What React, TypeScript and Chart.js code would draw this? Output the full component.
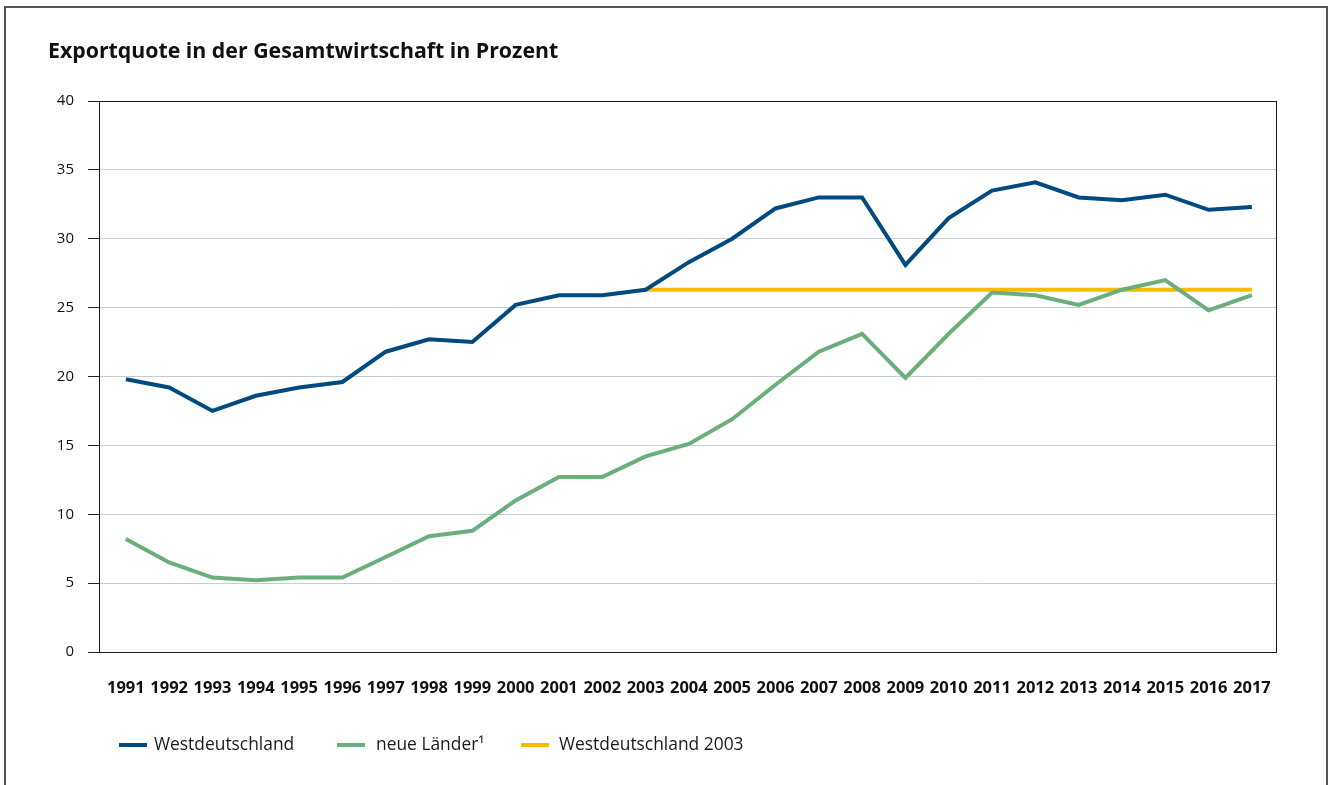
import React, { useEffect, useRef } from "react";
import { Chart, registerables } from "chart.js";

Chart.register(...registerables);

const TITLE = "Exportquote in der Gesamtwirtschaft in Prozent";
const years = [1991, 1992, 1993, 1994, 1995, 1996, 1997, 1998, 1999, 2000, 2001, 2002, 2003, 2004, 2005, 2006, 2007, 2008, 2009, 2010, 2011, 2012, 2013, 2014, 2015, 2016, 2017];
const westdeutschland = [19.8, 19.2, 17.5, 18.6, 19.2, 19.6, 21.8, 22.7, 22.5, 25.2, 25.9, 25.9, 26.3, 28.3, 30.0, 32.2, 33.0, 33.0, 28.1, 31.5, 33.5, 34.1, 33.0, 32.8, 33.2, 32.1, 32.3];
const neueLaender = [8.2, 6.5, 5.4, 5.2, 5.4, 5.4, 6.9, 8.4, 8.8, 11.0, 12.7, 12.7, 14.2, 15.1, 16.9, 19.4, 21.8, 23.1, 19.9, 23.1, 26.1, 25.9, 25.2, 26.3, 27.0, 24.8, 25.9];
const west2003Years = [2003, 2017];
const west2003Value = 26.3;
const yTicks = [0, 5, 10, 15, 20, 25, 30, 35, 40];
const seriesLabels = ["Westdeutschland", "neue Länder\u00B9", "Westdeutschland 2003"];
const colors = ["#004a7f", "#69ae7b", "#f7bb00"];

const FONT = "'Open Sans', 'Noto Sans', sans-serif";
const legendSwatchX = [119, 337, 521];
const legendTextX = [154, 376, 559];

const framePlugin = {
  id: "frame",
  beforeDraw(chart: any) {
    const { ctx } = chart;
    ctx.save();
    ctx.fillStyle = "#ffffff";
    ctx.fillRect(0, 0, chart.width, chart.height);
    ctx.strokeStyle = "#555555";
    ctx.lineWidth = 2;
    ctx.strokeRect(5, 7, 1322, 820);
    ctx.fillStyle = "#111111";
    ctx.font = `bold 21.3px ${FONT}`;
    ctx.textBaseline = "middle";
    ctx.textAlign = "left";
    ctx.fillText(TITLE, 48, 52);
    ctx.restore();
  },
  beforeDatasetsDraw(chart: any) {
    const { ctx, chartArea } = chart;
    ctx.save();
    ctx.strokeStyle = "#1a1a1a";
    ctx.lineWidth = 1;
    ctx.strokeRect(
      Math.round(chartArea.left) + 0.5,
      Math.round(chartArea.top) + 0.5,
      Math.round(chartArea.right - chartArea.left) - 1,
      Math.round(chartArea.bottom - chartArea.top)
    );
    ctx.restore();
  },
  afterDraw(chart: any) {
    const { ctx } = chart;
    ctx.save();
    ctx.font = `17.4px ${FONT}`;
    ctx.textBaseline = "middle";
    ctx.textAlign = "left";
    const y = 745;
    seriesLabels.forEach((label, i) => {
      const x = legendSwatchX[i];
      ctx.strokeStyle = colors[i];
      ctx.lineWidth = 4;
      ctx.beginPath();
      ctx.moveTo(x, y);
      ctx.lineTo(x + 28, y);
      ctx.stroke();
      ctx.fillStyle = "#1a1a1a";
      ctx.fillText(label, legendTextX[i], y);
    });
    ctx.restore();
  },
};

export default function App() {
  const ref = useRef<HTMLCanvasElement>(null);

  useEffect(() => {
    document.body.style.margin = "0";
    const canvas = ref.current!;
    const chart = new Chart(canvas, {
      type: "line",
      data: {
        datasets: [
          {
            label: seriesLabels[0],
            data: years.map((yr, i) => ({ x: yr, y: westdeutschland[i] })),
            borderColor: colors[0],
            borderWidth: 4,
            pointRadius: 0,
            tension: 0,
          },
          {
            label: seriesLabels[1],
            data: years.map((yr, i) => ({ x: yr, y: neueLaender[i] })),
            borderColor: colors[1],
            borderWidth: 4,
            pointRadius: 0,
            tension: 0,
          },
          {
            label: seriesLabels[2],
            data: west2003Years.map((yr) => ({ x: yr, y: west2003Value })),
            borderColor: colors[2],
            borderWidth: 4,
            pointRadius: 0,
            tension: 0,
          },
        ],
      },
      options: {
        animation: false,
        responsive: false,
        devicePixelRatio: 1,
        layout: { padding: { left: 20, top: 101, right: 58, bottom: 83 } },
        plugins: {
          legend: { display: false },
          title: { display: false },
          tooltip: { enabled: false },
        },
        scales: {
          x: {
            type: "linear",
            min: 1990.38,
            max: 2017.58,
            grid: { display: false },
            border: { display: false },
            afterBuildTicks: (scale: any) => {
              scale.ticks = years.map((v) => ({ value: v }));
            },
            afterFit: (scale: any) => {
              scale.height = 50;
            },
            ticks: {
              autoSkip: false,
              maxRotation: 0,
              padding: 18,
              color: "#111111",
              font: { family: FONT, size: 16.5, weight: "bold" },
              callback: (v: any) => String(v),
            },
          },
          y: {
            min: 0,
            max: 40,
            afterBuildTicks: (scale: any) => {
              scale.ticks = yTicks.map((v) => ({ value: v }));
            },
            afterFit: (scale: any) => {
              scale.width = 79;
            },
            border: { display: false },
            grid: {
              color: "#c6ced5",
              tickColor: "#222222",
              tickLength: 11,
              lineWidth: 1,
            },
            ticks: {
              padding: 14,
              color: "#111111",
              font: { family: FONT, size: 15 },
              callback: (v: any) => String(v),
            },
          },
        },
      },
      plugins: [framePlugin],
    });
    return () => chart.destroy();
  }, []);

  return (
    <div style={{ position: "absolute", left: 0, top: 0, width: 1335, height: 785 }}>
      <canvas ref={ref} width={1335} height={785} />
    </div>
  );
}
